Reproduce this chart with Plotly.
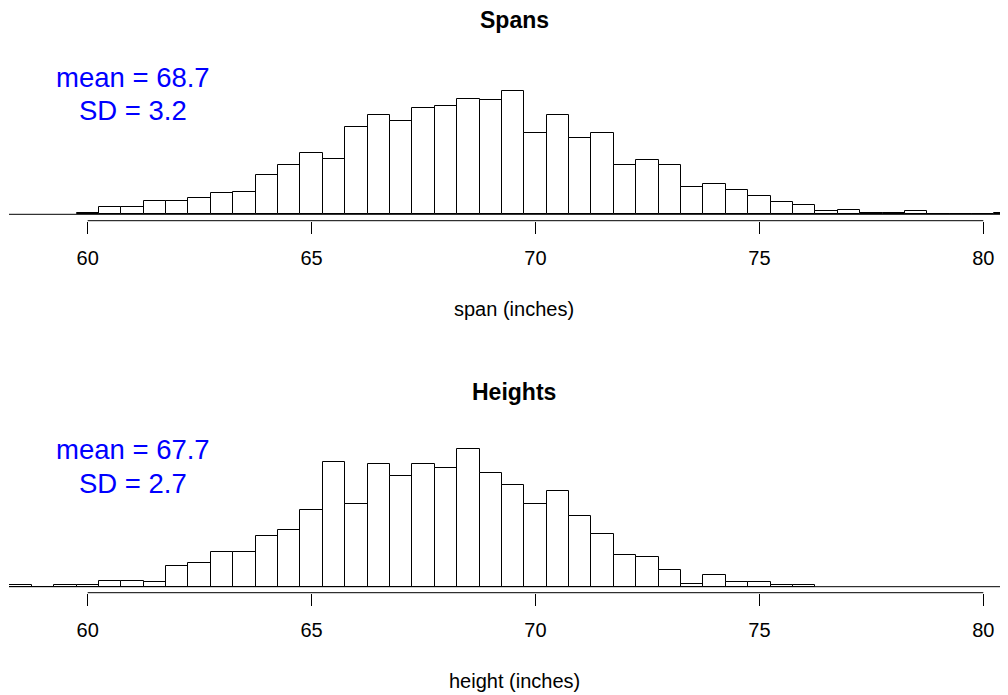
import plotly.graph_objects as go

# ---- data ----
bin_width = 0.5

span_mids = [60.0, 60.5, 61.0, 61.5, 62.0, 62.5, 63.0, 63.5, 64.0, 64.5,
             65.0, 65.5, 66.0, 66.5, 67.0, 67.5, 68.0, 68.5, 69.0, 69.5,
             70.0, 70.5, 71.0, 71.5, 72.0, 72.5, 73.0, 73.5, 74.0, 74.5,
             75.0, 75.5, 76.0, 76.5, 77.0, 77.5, 78.0, 78.5, 79.0, 79.5,
             80.0, 80.5]
span_counts = [1, 5, 5, 9, 9, 11, 14, 15, 26, 33,
               41, 37, 58, 66, 62, 71, 72, 77, 76, 82,
               54, 66, 51, 54, 33, 36, 33, 18, 20, 16,
               12, 8, 6, 2, 3, 1, 1, 2, 0, 0,
               0, 1]

height_mids = [58.5, 59.0, 59.5, 60.0, 60.5, 61.0, 61.5, 62.0, 62.5, 63.0,
               63.5, 64.0, 64.5, 65.0, 65.5, 66.0, 66.5, 67.0, 67.5, 68.0,
               68.5, 69.0, 69.5, 70.0, 70.5, 71.0, 71.5, 72.0, 72.5, 73.0,
               73.5, 74.0, 74.5, 75.0, 75.5, 76.0]
height_counts = [1, 0, 1, 1, 4, 4, 3, 14, 16, 23,
                 23, 34, 38, 51, 83, 55, 82, 74, 82, 79,
                 92, 76, 68, 55, 64, 47, 35, 21, 20, 11,
                 2, 8, 3, 3, 1, 1]

tick_vals = [60, 65, 70, 75, 80]
tick_text = ["60", "65", "70", "75", "80"]

panel_titles = ["Spans", "Heights"]
x_titles = ["span (inches)", "height (inches)"]
mean_labels = ["mean = 68.7", "mean = 67.7"]
sd_labels = ["SD = 3.2", "SD = 2.7"]

# ---- layout helpers (page body adds an 8px offset) ----
OFF = 8
W, H = 1008 - OFF, 695 - OFF
ML = 1
FONT = "Liberation Sans, Arial, Helvetica, sans-serif"


def py(ref_px):
    return 1 - (ref_px - OFF) / H


def pxx(ref_px):
    return (ref_px - OFF - ML) / (W - ML)


fig = go.Figure()

panels = [
    dict(mids=span_mids, counts=span_counts, xa="x", ya="y", off=0,
         yr=[-4.27, 102.87]),
    dict(mids=height_mids, counts=height_counts, xa="x2", ya="y2", off=372,
         yr=[-4.0, 103.13]),
]

for i, p in enumerate(panels):
    fig.add_trace(go.Bar(
        x=p["mids"], y=p["counts"], width=bin_width,
        marker=dict(color="white", line=dict(color="black", width=1)),
        xaxis=p["xa"], yaxis=p["ya"], showlegend=False, hoverinfo="x+y",
    ))

x_range = [58.2425, 80.552]

common_x = dict(range=x_range, showgrid=False, zeroline=False, showline=False,
                ticks="outside", ticklen=12, tickwidth=1, tickcolor="black",
                tickvals=tick_vals, ticktext=tick_text,
                tickfont=dict(family=FONT, size=20, color="black"),
                ticklabelstandoff=7, fixedrange=True)
common_y = dict(visible=False, showgrid=False, zeroline=False, fixedrange=True)

fig.update_layout(
    width=W, height=H,
    margin=dict(l=ML, r=0, t=0, b=0),
    paper_bgcolor="white", plot_bgcolor="white",
    bargap=0,
    xaxis=dict(common_x, domain=[0, 1], anchor="y"),
    yaxis=dict(common_y, domain=[py(220.7), py(60)], range=panels[0]["yr"], anchor="x"),
    xaxis2=dict(common_x, domain=[0, 1], anchor="y2"),
    yaxis2=dict(common_y, domain=[py(592.7), py(432)], range=panels[1]["yr"], anchor="x2"),
)

shapes = []
annotations = []
for i, p in enumerate(panels):
    xa, ya = p["xa"], p["ya"]
    off = p["off"]
    # baseline across the plot region
    shapes.append(dict(type="line", xref=f"{xa} domain", yref=ya,
                       x0=0, x1=1, y0=0, y1=0,
                       line=dict(color="black", width=1)))
    # axis line spanning the ticks
    shapes.append(dict(type="line", xref=xa, yref=f"{ya} domain",
                       x0=min(tick_vals), x1=max(tick_vals), y0=0, y1=0,
                       line=dict(color="black", width=1)))
    annotations.append(dict(text=f"<b>{panel_titles[i]}</b>", xref="paper", yref="paper",
                            x=pxx(514), y=py(20 + off), xanchor="center", yanchor="middle",
                            showarrow=False, font=dict(family=FONT, size=23, color="black")))
    annotations.append(dict(text=x_titles[i], xref="paper", yref="paper",
                            x=pxx(514), y=py(309 + off), xanchor="center", yanchor="middle",
                            showarrow=False, font=dict(family=FONT, size=20, color="black")))
    annotations.append(dict(text=mean_labels[i], xref="paper", yref="paper",
                            x=pxx(132.5), y=py(77 + off), xanchor="center", yanchor="middle",
                            showarrow=False, font=dict(family=FONT, size=27.5, color="#0000FF")))
    annotations.append(dict(text=sd_labels[i], xref="paper", yref="paper",
                            x=pxx(132.5), y=py(111 + off), xanchor="center", yanchor="middle",
                            showarrow=False, font=dict(family=FONT, size=27.5, color="#0000FF")))

fig.update_layout(shapes=shapes, annotations=annotations)

fig.write_html("out.html")
